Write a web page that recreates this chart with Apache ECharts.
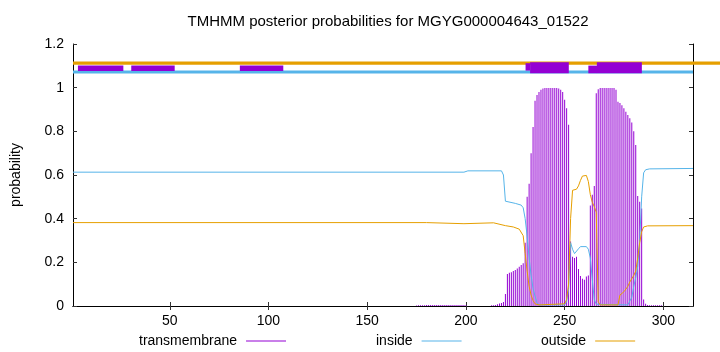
<!DOCTYPE html>
<html>
<head>
<meta charset="utf-8">
<script src="https://cdn.jsdelivr.net/npm/echarts@6/dist/echarts.min.js"></script>
<style>
  html, body { margin: 0; padding: 0; background: #fff; }
  #chart { width: 720px; height: 352px; }
</style>
</head>
<body>
<div id="chart"></div>
<script>
// tick labels
const xTicks = [50, 100, 150, 200, 250, 300]
const seqRange = [1, 315]

// transmembrane posterior, [residue, probability]
const tmProb = [
  [175, 0.002], [176, 0.003], [177, 0.003], [178, 0.004], [179, 0.004], [180, 0.005],
  [181, 0.005], [182, 0.005], [183, 0.005], [184, 0.005], [185, 0.005], [186, 0.005],
  [187, 0.005], [188, 0.005], [189, 0.005], [190, 0.005], [191, 0.005], [192, 0.005],
  [193, 0.005], [194, 0.005], [195, 0.005], [196, 0.005], [197, 0.005], [198, 0.005],
  [199, 0.005], [200, 0.004],
  [213, 0.003], [214, 0.004], [215, 0.005], [216, 0.008], [217, 0.012], [218, 0.014],
  [219, 0.018], [220, 0.055], [221, 0.147], [222, 0.152], [223, 0.155], [224, 0.16],
  [225, 0.165], [226, 0.172], [227, 0.18], [228, 0.188], [229, 0.196], [230, 0.29],
  [231, 0.5], [232, 0.56], [233, 0.7], [234, 0.82], [235, 0.94], [236, 0.966],
  [237, 0.98], [238, 0.99], [239, 0.996], [240, 0.998], [241, 0.998], [242, 0.998],
  [243, 0.998], [244, 0.998], [245, 0.998], [246, 0.998], [247, 0.996], [248, 0.99],
  [249, 0.98], [250, 0.945], [251, 0.906], [252, 0.83], [253, 0.295], [254, 0.226],
  [255, 0.22], [256, 0.226], [257, 0.17], [258, 0.137], [259, 0.125], [260, 0.12],
  [261, 0.135], [262, 0.14], [263, 0.46], [264, 0.51], [265, 0.55], [266, 0.974],
  [267, 0.993], [268, 0.998], [269, 0.998], [270, 0.998], [271, 0.998], [272, 0.998],
  [273, 0.998], [274, 0.998], [275, 0.998], [276, 0.99], [277, 0.936], [278, 0.93],
  [279, 0.92], [280, 0.906], [281, 0.89], [282, 0.875], [283, 0.86], [284, 0.84],
  [285, 0.8], [286, 0.737], [287, 0.504], [288, 0.478], [289, 0.447], [290, 0.03],
  [291, 0.01], [292, 0.005], [293, 0.004], [294, 0.004], [295, 0.004], [296, 0.004],
  [297, 0.004], [298, 0.004], [299, 0.003]
]

// inside posterior
const insideProb = [
  [1, 0.613], [199, 0.613], [201, 0.619], [218, 0.619], [219, 0.6], [220, 0.48],
  [221, 0.476], [225, 0.47], [228, 0.462], [229, 0.45], [230, 0.4], [231, 0.32],
  [232, 0.22], [233, 0.14], [234, 0.08], [235, 0.045], [236, 0.015], [237, 0.005],
  [250, 0.005], [251, 0.02], [252, 0.08], [253, 0.29], [254, 0.26], [255, 0.24],
  [256, 0.245], [257, 0.262], [258, 0.272], [261, 0.272], [262, 0.26], [263, 0.22],
  [264, 0.12], [265, 0.03], [266, 0.008], [267, 0.004], [282, 0.005], [283, 0.014],
  [284, 0.04], [285, 0.09], [286, 0.13], [287, 0.18], [288, 0.3], [289, 0.5],
  [290, 0.61], [291, 0.624], [293, 0.628], [315, 0.63]
]

// outside posterior
const outsideProb = [
  [1, 0.382], [180, 0.382], [181, 0.377], [199, 0.377], [200, 0.381], [214, 0.381],
  [215, 0.372], [220, 0.368], [224, 0.362], [227, 0.352], [228, 0.345], [229, 0.322],
  [230, 0.24], [231, 0.16], [232, 0.09], [233, 0.05], [234, 0.025], [235, 0.01],
  [237, 0.005], [250, 0.01], [251, 0.03], [252, 0.1], [253, 0.4], [254, 0.53],
  [256, 0.535], [257, 0.55], [258, 0.575], [259, 0.595], [260, 0.603], [261, 0.598],
  [262, 0.57], [263, 0.51], [264, 0.475], [265, 0.455], [266, 0.43], [267, 0.02],
  [268, 0.005], [277, 0.005], [278, 0.05], [280, 0.065], [282, 0.09], [283, 0.11],
  [285, 0.14], [286, 0.16], [287, 0.22], [288, 0.29], [289, 0.34], [290, 0.362],
  [292, 0.367], [315, 0.368]
]

// predicted topology strip above the plot: [from, to, level]
const outsideStrip = [[1, 335, 1.112]]
const insideStrip = [[1, 315, 1.072]]
// [from, to, low, high]
const tmStrip = [
  [3.5, 26.5, 1.076, 1.101], [30.5, 52.5, 1.076, 1.101], [85.5, 107.5, 1.076, 1.101],
  [230.2, 232.6, 1.078, 1.112], [232.5, 252.1, 1.066, 1.116],
  [262, 266.4, 1.066, 1.101], [266.3, 289.1, 1.066, 1.116]
]

const FONT = 'Liberation Sans'
const FS = 14
const chart = echarts.init(document.getElementById('chart'))

const legendBase = {
  top: 329,
  align: 'right',
  icon: 'rect',
  itemWidth: 40,
  itemHeight: 1,
  textStyle: { fontFamily: FONT, fontSize: FS, color: '#000', padding: [0, 4, 0, 0] }
}

// horizontal bar of the topology strip
const stripLine = (width) => function (params, api) {
  const p0 = api.coord([api.value(0), api.value(2)])
  const p1 = api.coord([api.value(1), api.value(2)])
  return {
    type: 'line',
    shape: { x1: p0[0], y1: p0[1], x2: p1[0], y2: p1[1] },
    style: { stroke: api.visual('color'), lineWidth: width }
  }
}

chart.setOption({
  animation: false,
  title: {
    text: 'TMHMM posterior probabilities for MGYG000004643_01522',
    left: 383,
    top: 9,
    textAlign: 'center',
    textStyle: { fontFamily: FONT, fontSize: 15, fontWeight: 'normal', color: '#000' }
  },
  legend: [
    { ...legendBase, left: 134, data: ['transmembrane'] },
    { ...legendBase, left: 371, data: ['inside'] },
    { ...legendBase, left: 536, data: ['outside'] }
  ],
  grid: { left: 73, right: 27, top: 44, bottom: 46 },
  xAxis: [
    {
      type: 'value',
      min: seqRange[0],
      max: seqRange[1],
      axisLine: { lineStyle: { color: '#000' } },
      axisTick: { inside: true, length: 4, customValues: xTicks, lineStyle: { color: '#333' } },
      axisLabel: { customValues: xTicks, fontFamily: FONT, fontSize: FS, color: '#000', margin: 8 },
      splitLine: { show: false }
    },
    {
      type: 'value',
      position: 'top',
      min: seqRange[0],
      max: seqRange[1],
      axisLine: { lineStyle: { color: '#000' } },
      axisTick: { inside: true, length: 4, customValues: xTicks, lineStyle: { color: '#333' } },
      axisLabel: { show: false },
      splitLine: { show: false }
    }
  ],
  yAxis: [
    {
      type: 'value',
      min: 0,
      max: 1.2,
      interval: 0.2,
      name: 'probability',
      nameLocation: 'middle',
      nameGap: 50,
      nameTextStyle: { fontFamily: FONT, fontSize: FS, color: '#000' },
      axisLine: { show: true, lineStyle: { color: '#000' } },
      axisTick: { inside: true, length: 4, lineStyle: { color: '#333' } },
      axisLabel: { fontFamily: FONT, fontSize: FS, color: '#000', margin: 9 },
      splitLine: { show: false }
    },
    {
      type: 'value',
      position: 'right',
      min: 0,
      max: 1.2,
      interval: 0.2,
      axisLine: { show: true, lineStyle: { color: '#000' } },
      axisTick: { inside: true, length: 4, lineStyle: { color: '#333' } },
      axisLabel: { show: false },
      splitLine: { show: false }
    }
  ],
  series: [
    {
      name: 'transmembrane',
      type: 'bar',
      barWidth: 1,
      color: '#9400d3',
      data: tmProb
    },
    {
      name: 'inside',
      type: 'line',
      color: '#56b4e9',
      showSymbol: false,
      lineStyle: { width: 1 },
      data: insideProb
    },
    {
      name: 'outside',
      type: 'line',
      color: '#e69f00',
      showSymbol: false,
      lineStyle: { width: 1 },
      data: outsideProb
    },
    // topology strip
    {
      type: 'custom',
      color: '#e69f00',
      clip: false,
      z: 3,
      data: outsideStrip,
      renderItem: stripLine(3.3)
    },
    {
      type: 'custom',
      color: '#56b4e9',
      clip: false,
      z: 3,
      data: insideStrip,
      renderItem: stripLine(3)
    },
    {
      type: 'custom',
      z: 5,
      data: tmStrip,
      renderItem: function (params, api) {
        const p0 = api.coord([api.value(0), api.value(3)])
        const p1 = api.coord([api.value(1), api.value(2)])
        return {
          type: 'rect',
          shape: { x: p0[0], y: p0[1], width: p1[0] - p0[0], height: p1[1] - p0[1] },
          style: { fill: '#9400d3' }
        }
      }
    }
  ]
})
</script>
</body>
</html>
